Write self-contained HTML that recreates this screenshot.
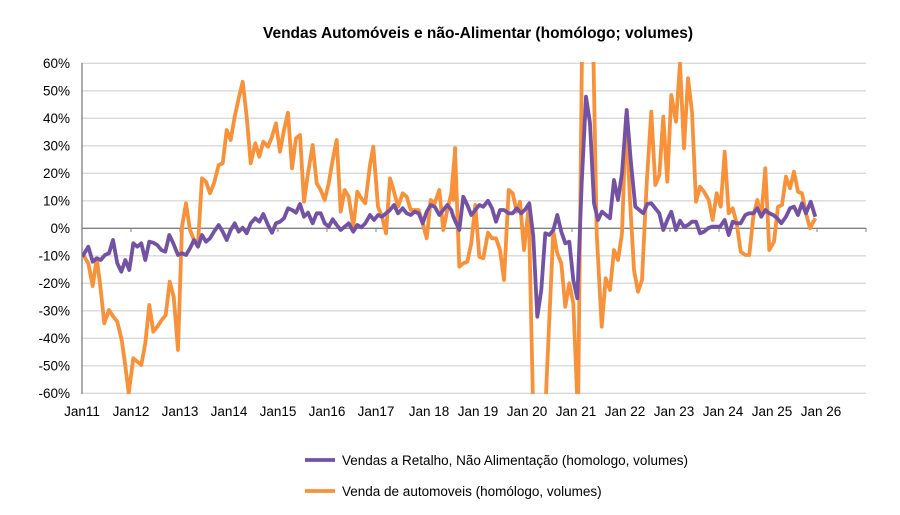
<!DOCTYPE html>
<html><head><meta charset="utf-8"><style>
body{margin:0;background:#fff;width:900px;height:510px;overflow:hidden;font-family:"Liberation Sans",Arial,sans-serif}
</style></head><body>
<svg id="s" width="900" height="510" xmlns="http://www.w3.org/2000/svg" font-family="Liberation Sans, Arial, sans-serif">
<defs><clipPath id="c"><rect x="82" y="62" width="784" height="332"/></clipPath></defs>
<text x="478" y="38" text-anchor="middle" font-size="15.5" font-weight="bold" fill="#000">Vendas Automóveis e não-Alimentar (homólogo; volumes)</text>
<g id="grid"></g>
<g id="lab" font-size="13.5" fill="#000"></g>
<g clip-path="url(#c)">
<polyline id="o" fill="none" stroke="#F7923A" stroke-width="3.8" stroke-linejoin="round"/>
<polyline id="p" fill="none" stroke="#7352A4" stroke-width="3.8" stroke-linejoin="round"/>
</g>
<line x1="305" y1="460" x2="335" y2="460" stroke="#7352A4" stroke-width="3.8"/>
<text x="342" y="465" font-size="13.5">Vendas a Retalho, Não Alimentação (homologo, volumes)</text>
<line x1="305" y1="491" x2="335" y2="491" stroke="#F7923A" stroke-width="3.8"/>
<text x="342" y="496" font-size="13.5">Venda de automoveis (homólogo, volumes)</text>
</svg>
<script>
var NS="http://www.w3.org/2000/svg";
function el(t,a,p){var e=document.createElementNS(NS,t);for(var k in a)e.setAttribute(k,a[k]);p.appendChild(e);return e;}
var g=document.getElementById('grid'),lab=document.getElementById('lab');
for(var i=0;i<=12;i++){var v=60-i*10,y=63.3+i*27.5;
 if(v!==0)el('line',{x1:82,x2:866,y1:y,y2:y,stroke:'#d9d9d9','stroke-width':1.3},g);
 var t=el('text',{x:70,y:y+4.5,'text-anchor':'end'},lab);t.textContent=v+'%';}
el('line',{x1:82,x2:82,y1:63,y2:394,stroke:'#808080','stroke-width':1.3},g);
el('line',{x1:82,x2:866,y1:228.3,y2:228.3,stroke:'#808080','stroke-width':1.3},g);
var names=['Jan11','Jan12','Jan13','Jan14','Jan15','Jan16','Jan17','Jan 18','Jan 19','Jan 20','Jan 21','Jan 22','Jan 23','Jan 24','Jan 25','Jan 26'];
for(var j=0;j<=16;j++){var x=82+j*49;el('line',{x1:x,x2:x,y1:228.3,y2:232,stroke:'#808080'},g);
 if(j<16){var t=el('text',{x:x+(j>6?4:0),y:416,'text-anchor':'middle'},lab);t.textContent=names[j];}}
function conv(a,ox){return a.map(function(p){return (ox+p[0]/3).toFixed(1)+','+(50+p[1]/3).toFixed(1)}).join(' ');}
var o1=[[127,610],[145,640],[158,708],[170,625],[180,700],[193,820],[207,780],[220,800],[232,815],[245,870],[255,940],[266,1030],[280,925],[292,935],[304,945],[316,880],[328,765],[340,845],[352,830],[365,810],[377,795],[389,695],[401,740],[414,900],[426,530],[438,460],[450,540],[462,570],[474,580],[486,385],[498,395],[510,430],[522,400],[536,345],[548,340],[560,240],[572,270],[584,200],[596,145],[608,95],[620,200],[632,340],[646,280],[658,320],[670,275],[684,290],[696,260],[708,220],[720,305],[732,240],[744,188],[756,355],[768,265],[780,255],[792,455],[804,370],[818,285],[830,400],[842,420],[854,450],[866,400],[878,330],[890,270],[902,485],[914,420],[926,440],[940,530],[952,425],[964,445],[976,460],[990,345],[1000,290],[1014,470],[1026,500],[1038,550],[1050,385],[1062,425],[1074,470],[1088,430],[1100,440],[1112,480],[1124,480],[1136,480],[1148,520],[1160,565],[1172,450],[1184,460],[1198,420],[1210,540],[1222,480],[1234,430],[1246,295]];
var o2=[[10,450],[15,295],[28,650],[40,640],[52,635],[64,580],[76,465],[88,620],[100,625],[114,548],[126,565],[138,565],[150,600],[162,690],[176,420],[188,430],[200,485],[210,455],[222,600],[236,470],[250,1100],[285,1100],[298,810],[310,545],[322,610],[334,640],[346,770],[358,700],[370,760],[384,1100],[396,0],[430,0],[440,550],[455,830],[467,685],[480,720],[492,600],[504,630],[516,550],[528,200],[540,450],[552,660],[564,725],[576,690],[590,400],[604,185],[616,405],[628,375],[640,200],[652,395],[664,135],[678,215],[690,40],[702,295],[714,85],[726,185],[738,455],[750,410],[762,425],[776,450],[788,510],[800,430],[812,470],[824,305],[836,490],[848,475],[860,520],[872,605],[886,615],[898,615],[910,500],[922,450],[934,500],[946,355],[958,600],[972,575],[984,470],[996,465],[1008,380],[1020,415],[1032,365],[1044,425],[1056,430],[1068,490],[1080,535],[1096,505]];
var p1=[[127,620],[145,590],[158,635],[170,625],[182,630],[195,615],[207,610],[219,570],[232,640],[244,665],[256,630],[268,660],[280,580],[292,590],[304,580],[316,630],[328,575],[340,578],[352,585],[364,600],[376,605],[388,555],[400,580],[414,615],[426,610],[438,615],[450,595],[462,570],[474,590],[486,555],[498,575],[510,565],[522,545],[536,525],[548,545],[560,570],[572,540],[584,520],[596,545],[608,533],[620,550],[632,520],[646,505],[658,515],[670,492],[684,525],[696,548],[708,520],[720,515],[732,505],[744,475],[756,480],[768,488],[780,462],[792,500],[804,488],[818,520],[830,490],[842,490],[854,520],[866,530],[878,508],[890,525],[902,540],[914,530],[926,520],[940,545],[952,525],[964,532],[976,520],[990,495],[1002,510],[1014,495],[1026,500],[1038,490],[1050,480],[1062,465],[1074,490],[1088,475],[1100,490],[1112,495],[1124,485],[1136,490],[1148,520],[1160,485],[1172,465],[1184,470],[1198,495],[1210,480],[1222,465],[1234,480]];
var p2=[[10,500],[28,540],[40,440],[52,465],[64,495],[76,480],[88,465],[100,470],[114,452],[126,475],[138,515],[150,480],[162,480],[176,490],[188,490],[200,475],[214,490],[226,478],[238,460],[250,560],[262,800],[274,720],[286,550],[298,555],[310,540],[322,495],[334,545],[346,580],[358,575],[370,690],[382,745],[395,400],[408,140],[420,220],[432,460],[444,510],[456,485],[468,495],[480,505],[492,390],[504,450],[516,370],[530,180],[542,330],[556,470],[568,480],[580,490],[592,462],[604,460],[616,475],[628,490],[640,540],[652,510],[664,485],[678,540],[690,512],[702,530],[714,525],[726,515],[738,515],[750,550],[762,545],[774,535],[786,530],[798,530],[810,530],[824,510],[836,555],[848,515],[860,520],[872,520],[886,495],[898,490],[910,490],[922,475],[934,500],[946,480],[958,490],[970,495],[982,505],[994,520],[1008,500],[1020,475],[1032,470],[1044,495],[1056,460],[1068,490],[1082,455],[1096,500]];
document.getElementById('o').setAttribute('points',conv(o1,40)+' '+conv(o2,450));
document.getElementById('p').setAttribute('points',conv(p1,40)+' '+conv(p2,450));
</script>
</body></html>
